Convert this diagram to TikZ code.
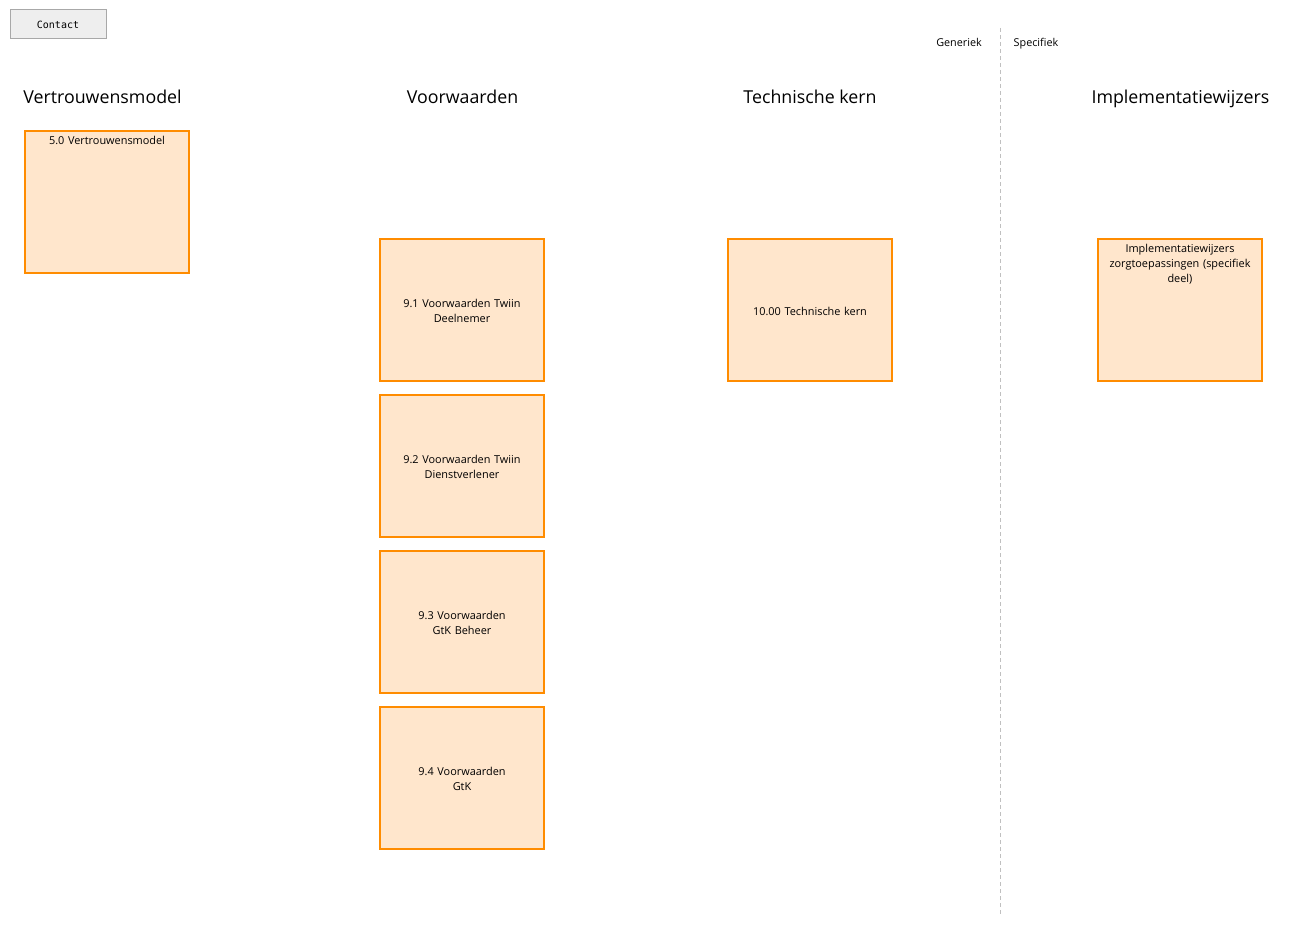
\documentclass[tikz,border=0pt]{standalone}
\usepackage{fontspec}
\setmainfont{Open Sans}
\setmonofont{DejaVu Sans Mono}
\definecolor{boxfill}{HTML}{FFE6CC}
\definecolor{boxline}{HTML}{FF8C00}
\definecolor{btnfill}{HTML}{EEEEEE}
\definecolor{btnline}{HTML}{A8A8A8}
\definecolor{sepline}{HTML}{C0C0C0}
\begin{document}
\begin{tikzpicture}[x=1pt,y=-1pt,
  cardbox/.style={draw=boxline,fill=boxfill,line width=2pt,outer sep=0pt,minimum width=164pt,minimum height=142pt,inner sep=0pt,anchor=north west},
  cardtext/.style={align=center,font=\fontsize{10.9}{15}\selectfont,text width=155pt},
  heading/.style={font=\fontsize{17.8}{20}\selectfont,inner sep=0pt,anchor=base},
  smalllabel/.style={font=\fontsize{10.8}{13}\selectfont,inner sep=0pt,anchor=base}]
\useasboundingbox[fill=white] (0,0) rectangle (1293,947);
% contact button
\node[draw=btnline,fill=btnfill,line width=1pt,minimum width=96pt,minimum height=29pt,inner sep=0pt,font=\ttfamily\fontsize{10}{12}\selectfont] (contact) at (58,24.5) {Contact};
% separator
\coordinate (septop) at (1000,28);
\coordinate (sepbot) at (1000,915);
\draw[sepline,dashed,dash pattern=on 4pt off 3pt,line width=0.8pt] (septop) -- (sepbot);
\node[smalllabel] (gen) at (959,47) {Generiek};
\node[smalllabel] (spec) at (1036,47) {Specifiek};
% headings
\node[heading] (h1) at (102.5,103.5) {Vertrouwensmodel};
\node[heading] (h2) at (462.5,103.5) {Voorwaarden};
\node[heading] (h3) at (810,103.5) {Technische kern};
\node[heading] (h4) at (1180.5,103.5) {Implementatiewijzers};
% boxes
\node[cardbox] (b50) at (25,131) {};
\node[cardtext,anchor=north] (t50) at ([yshift=-2pt]b50.north) {5.0 Vertrouwensmodel};
\node[cardbox] (b91) at (380,239) {};
\node[cardtext] (t91) at ([yshift=-1pt]b91.center) {9.1 Voorwaarden Twiin\\Deelnemer};
\node[cardbox] (b92) at (380,395) {};
\node[cardtext] (t92) at ([yshift=-1pt]b92.center) {9.2 Voorwaarden Twiin\\Dienstverlener};
\node[cardbox] (b93) at (380,551) {};
\node[cardtext] (t93) at ([yshift=-1pt]b93.center) {9.3 Voorwaarden\\GtK Beheer};
\node[cardbox] (b94) at (380,707) {};
\node[cardtext] (t94) at ([yshift=-1pt]b94.center) {9.4 Voorwaarden\\GtK};
\node[cardbox] (b100) at (728,239) {};
\node[cardtext] (t100) at ([yshift=-1pt]b100.center) {10.00 Technische kern};
\node[cardbox] (bimp) at (1098,239) {};
\node[cardtext,anchor=north] (timp) at ([yshift=-2pt]bimp.north) {Implementatiewijzers\\zorgtoepassingen (specifiek\\deel)};
\end{tikzpicture}
\end{document}
